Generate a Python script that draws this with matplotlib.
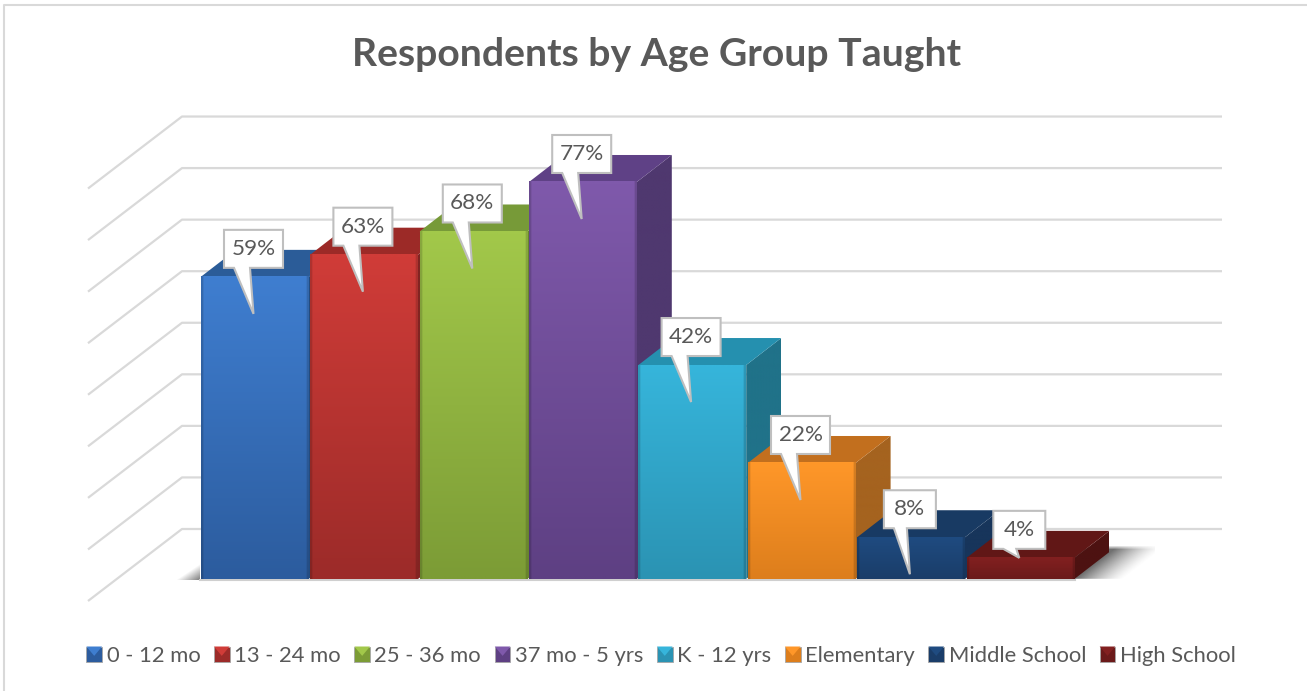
import numpy as np
import matplotlib
matplotlib.use("Agg")
import matplotlib.pyplot as plt
from matplotlib.colors import to_rgb
from matplotlib.legend_handler import HandlerBase
from matplotlib.patches import Patch, Polygon, Rectangle

plt.rcParams["font.family"] = ["Lato", "DejaVu Sans"]

# ---- data ----
title_text = "Respondents by Age Group Taught"
categories = ["0 - 12 mo", "13 - 24 mo", "25 - 36 mo", "37 mo - 5 yrs",
              "K - 12 yrs", "Elementary", "Middle School", "High School"]
values = [58.6, 62.9, 67.4, 77.0, 41.5, 22.5, 8.1, 4.1]
labels = ["59%", "63%", "68%", "77%", "42%", "22%", "8%", "4%"]
grid_levels = [0, 10, 20, 30, 40, 50, 60, 70, 80]

# ---- style ----
front_top = ["#3F7ED0", "#D03C38", "#A2C84A", "#7F59AB", "#36B5DB", "#FF9729", "#1F4B80", "#822020"]
front_bot = ["#2C5C9E", "#9C2B29", "#7C9C36", "#5E4083", "#2B93B3", "#DD7E1C", "#1A3D69", "#6B1A1A"]
side_col = ["#234C80", "#822422", "#66842E", "#4F386F", "#207289", "#A5631F", "#17355B", "#4D1211"]
top_col = ["#2B5C98", "#9C2A27", "#779A38", "#5F4186", "#2590AF", "#C26F1E", "#183A63", "#611716"]
GRID = "#D9D9D9"
TEXT = "#595959"
W, H = 1307, 691
PX_X, PX_Y = 109.4, 5.156      # pixels per category / per percent
LEFT_PX, FLOOR_PX = 200.0, 579.0
dx = lambda p: p / PX_X
dy = lambda p: p / PX_Y

fig = plt.figure(figsize=(W / 100, H / 100), dpi=100, facecolor="white")
ax = fig.add_axes([0, 0, 1, 1])
ax.set_xlim(-LEFT_PX / PX_X, (W - LEFT_PX) / PX_X)
ax.set_ylim((FLOOR_PX - H) / PX_Y, FLOOR_PX / PX_Y)
ax.axis("off")
xlim, ylim = ax.get_xlim(), ax.get_ylim()


def grad_poly(pts, img, zorder):
    pts = np.array(pts)
    extent = (pts[:, 0].min(), pts[:, 0].max(), pts[:, 1].min(), pts[:, 1].max())
    im = ax.imshow(img, extent=extent, aspect="auto", zorder=zorder, interpolation="bilinear")
    im.set_clip_path(Polygon(pts, closed=True, transform=ax.transData))
    return im


def vgrad(c0, c1, n=64):
    a, b = np.array(to_rgb(c0)), np.array(to_rgb(c1))
    t = np.linspace(0, 1, n)[:, None]
    return (a * (1 - t) + b * t)[:, None, :]


# chart border (top and left only are visible)
ax.plot([dx(4 - LEFT_PX), dx(4 - LEFT_PX), dx(W - LEFT_PX)],
        [dy(FLOOR_PX - H), dy(FLOOR_PX - 5), dy(FLOOR_PX - 5)], color="#D9D9D9", lw=1.5, zorder=0)

# gridlines: back wall + receding side wall
grid_base = dy(50)
wall_x0, wall_x1 = dx(182 - LEFT_PX), dx(1222 - LEFT_PX)
for lv in grid_levels:
    y = grid_base + lv
    ax.plot([wall_x0 + dx(-94), wall_x0, wall_x1], [y - dy(72), y, y],
            color=GRID, lw=1.6, zorder=1, solid_joinstyle="round", solid_capstyle="butt")

# soft floor shadows
n_bars = len(values)
yy, xx = np.mgrid[0:40, 0:80]                # pixel offsets of the shadow images
# left: fades away from the first bar's lower left corner
u = (xx[:, :30] + 0.5) * 30 / 30
v = 40 - yy[:, :30] - 0.5
a = np.clip(1 - (30 - u) / 24 - v / 16, 0, 1) * 0.8
rgba = np.zeros(a.shape + (4,))
rgba[..., :3] = 0.35
rgba[..., 3] = a
ax.imshow(rgba, extent=(dx(-30), 0, dy(-1), dy(39)), aspect="auto", zorder=2, interpolation="bilinear")
# right: fades away from the last bar's slanted side
v = 36 - yy[:36, :] - 0.5
u = xx[:36, :] - 35 * v / 27
a = np.clip(1 - u / 48, 0, 1) ** 1.4 * 0.8
a = a * np.clip((33.5 - v) / 4, 0, 1) * np.clip((v + 1.5) / 2.5, 0, 1)
rgba = np.zeros(a.shape + (4,))
rgba[..., :3] = 0.30
rgba[..., 3] = a
ax.imshow(rgba, extent=(n_bars, n_bars + dx(80), dy(0), dy(36)), aspect="auto", zorder=2, interpolation="bilinear")
ax.plot([0, n_bars], [dy(-0.7), dy(-0.7)], color="#CFCFCF", lw=1.5, zorder=2)

# bars
D_X, D_Y = dx(35), dy(27)
GAP = dx(0.8)
for i, v in enumerate(values):
    z = 3 + i * 0.1
    l, r = i + GAP, i + 1 - GAP
    grad_poly([(r, 0), (r + D_X, D_Y), (r + D_X, v + D_Y), (r, v)],
              vgrad(side_col[i], side_col[i]), z)
    ax.add_patch(Polygon([(l, v), (l + D_X, v + D_Y), (r + D_X, v + D_Y), (r, v)],
                         closed=True, fc=top_col[i], ec="none", zorder=z))
    # front face with bevelled edges
    img = vgrad(front_top[i], front_bot[i]).repeat(110, axis=1)
    h = np.ones(110)
    h[:2] = 0.84
    h[2:3] = 0.94
    h[-2:] = 0.84
    h[-3:-2] = 0.94
    img = img * h[None, :, None]
    ax.imshow(img, extent=(l, r, 0, v), aspect="auto", zorder=z + 0.01, interpolation="bilinear")

# callouts
BOX_H = dy(38)
for i, (v, label) in enumerate(zip(values, labels)):
    wpx = 59 if v >= 10 else 52
    cx = i + dx(53.5)
    bot = v + dy(9)
    top = bot + BOX_H
    left, right = cx - dx(wpx / 2), cx + dx(wpx / 2)
    tip_y = v - dy(37) if v > 5 else v
    base_l = left + dx(10)
    base_r = base_l + dx(16 if v >= 10 else 13)
    pts = [(left, bot), (base_l, bot), (cx, tip_y), (base_r, bot), (right, bot), (right, top), (left, top)]
    ax.add_patch(Polygon(pts, closed=True, fc="white", ec="#BFBFBF", lw=1.5, zorder=10, joinstyle="miter"))
    ax.text(cx, (top + bot) / 2, label, ha="center", va="center", color=TEXT, fontsize=16.2, zorder=11)

ax.set_xlim(xlim)
ax.set_ylim(ylim)

# title
fig.text(657 / W, 1 - 54 / H, title_text, ha="center", va="center", fontsize=28.2,
         fontweight="bold", color=TEXT)


# legend
class BevelHandler(HandlerBase):
    def create_artists(self, legend, orig, xd, yd, width, height, fontsize, trans):
        s = height
        x0, y0 = -xd + (width - s) / 2, -yd
        idx = categories.index(orig.get_label())
        rect = Rectangle((x0, y0), s, s, fc=front_bot[idx], ec="#A6A6A6", lw=0.6, transform=trans)
        tri = Polygon([(x0, y0 + s), (x0 + s, y0 + s), (x0 + s / 2, y0 + s * 0.4)], closed=True,
                      fc=front_top[idx], ec="none", transform=trans)
        return [rect, tri]


handles = [Patch(label=c) for c in categories]
leg = fig.legend(handles=handles, loc="center", bbox_to_anchor=(661 / W, 1 - 656 / H),
                 ncol=len(categories), frameon=False, fontsize=15.8, labelcolor=TEXT,
                 handler_map={Patch: BevelHandler()}, handlelength=0.72, handleheight=0.72,
                 handletextpad=0.2, columnspacing=0.62, borderpad=0)

fig.savefig("out.png", dpi=100, facecolor="white")
